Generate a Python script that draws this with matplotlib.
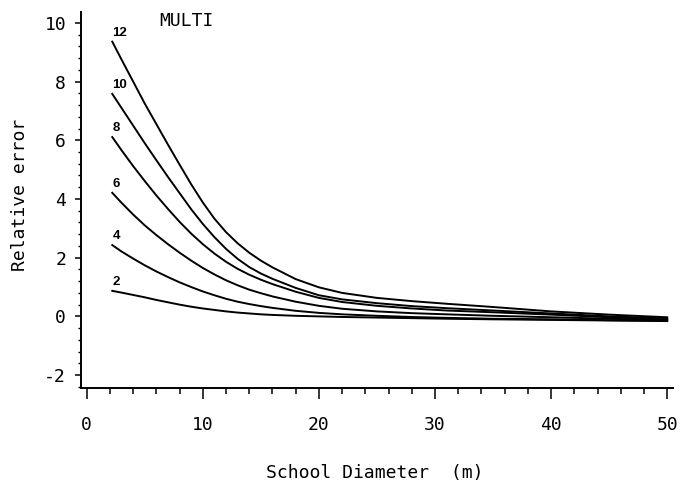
import matplotlib
matplotlib.use("Agg")
import matplotlib.pyplot as plt
from matplotlib.ticker import MultipleLocator

plt.rcParams['axes.unicode_minus'] = False

# school diameter (m)
diameter = [2.2, 3, 4, 5, 6, 7, 8, 9, 10, 11, 12, 13, 14, 15, 16, 18, 20,
            22, 25, 28, 31, 35, 40, 45, 50]

# relative error, one curve per label
err_12 = [9.36, 8.75, 8.0, 7.25, 6.55, 5.85, 5.17, 4.5, 3.88, 3.33, 2.87, 2.49,
          2.17, 1.9, 1.67, 1.27, 0.99, 0.8, 0.63, 0.52, 0.43, 0.32, 0.17, 0.06, -0.03]
err_10 = [7.58, 7.1, 6.5, 5.9, 5.32, 4.75, 4.2, 3.65, 3.15, 2.7, 2.3, 1.96,
          1.68, 1.46, 1.28, 0.97, 0.72, 0.58, 0.45, 0.35, 0.28, 0.2, 0.1, 0.0, -0.07]
err_8 = [6.11, 5.66, 5.12, 4.61, 4.12, 3.66, 3.22, 2.82, 2.46, 2.14, 1.86, 1.62,
         1.42, 1.25, 1.1, 0.84, 0.63, 0.49, 0.36, 0.27, 0.2, 0.14, 0.06, -0.03, -0.1]
err_6 = [4.21, 3.87, 3.47, 3.1, 2.77, 2.46, 2.17, 1.9, 1.65, 1.43, 1.23, 1.06,
         0.91, 0.79, 0.68, 0.5, 0.36, 0.26, 0.17, 0.11, 0.07, 0.02, -0.03, -0.08, -0.13]
err_4 = [2.43, 2.21, 1.97, 1.74, 1.53, 1.34, 1.16, 1.0, 0.85, 0.72, 0.6, 0.5,
         0.42, 0.35, 0.29, 0.19, 0.12, 0.07, 0.02, -0.02, -0.05, -0.08, -0.1, -0.13, -0.15]
err_2 = [0.87, 0.81, 0.73, 0.65, 0.56, 0.48, 0.4, 0.33, 0.27, 0.22, 0.17, 0.13,
         0.1, 0.07, 0.05, 0.02, 0.0, -0.02, -0.04, -0.06, -0.08, -0.1, -0.12, -0.14, -0.16]

curve_labels = ["12", "10", "8", "6", "4", "2"]
curves = [err_12, err_10, err_8, err_6, err_4, err_2]

mono = "DejaVu Sans Mono"

fig = plt.figure(figsize=(6.82, 4.88), dpi=100)
ax = fig.add_axes([0.1183, 0.2049, 0.9868 - 0.1183, 0.9754 - 0.2049])

for lab, ys in zip(curve_labels, curves):
    ax.plot(diameter, ys, color="black", lw=1.4)
    ax.annotate(lab, (diameter[0], ys[0]), xytext=(0, 2), textcoords="offset points",
                ha="left", va="bottom", fontsize=9.5, fontweight="bold",
                family="Liberation Sans")

ax.text(8.56, 10.07, "MULTI", ha="center", va="center", fontsize=13, family=mono)

ax.set_xlim(-0.52, 50.5)
ax.set_ylim(-2.44, 10.37)

for side in ["top", "right"]:
    ax.spines[side].set_visible(False)
ax.spines["left"].set_linewidth(1.4)
ax.spines["bottom"].set_linewidth(1.4)

ax.xaxis.set_major_locator(MultipleLocator(10))
ax.xaxis.set_minor_locator(MultipleLocator(2))
ax.yaxis.set_major_locator(MultipleLocator(2))
ax.yaxis.set_minor_locator(MultipleLocator(0.4))

ax.tick_params(axis="x", which="major", direction="out", length=8, width=1.1, pad=12)
ax.tick_params(axis="x", which="minor", direction="out", length=4, width=1.1)
ax.tick_params(axis="y", which="major", direction="out", length=4.5, width=1.1, pad=6)
ax.tick_params(axis="y", which="minor", direction="out", length=2.2, width=1.0)

for lbl in ax.get_xticklabels() + ax.get_yticklabels():
    lbl.set_family(mono)
    lbl.set_fontsize(13)

fig.text(375 / 682, 1 - 473 / 488, "School Diameter  (m)", ha="center", va="center",
         fontsize=13, family=mono)
fig.text(20 / 682, 1 - 195 / 488, "Relative error", ha="center", va="center",
         rotation=90, fontsize=13, family=mono)

fig.savefig("out.png", dpi=100)
